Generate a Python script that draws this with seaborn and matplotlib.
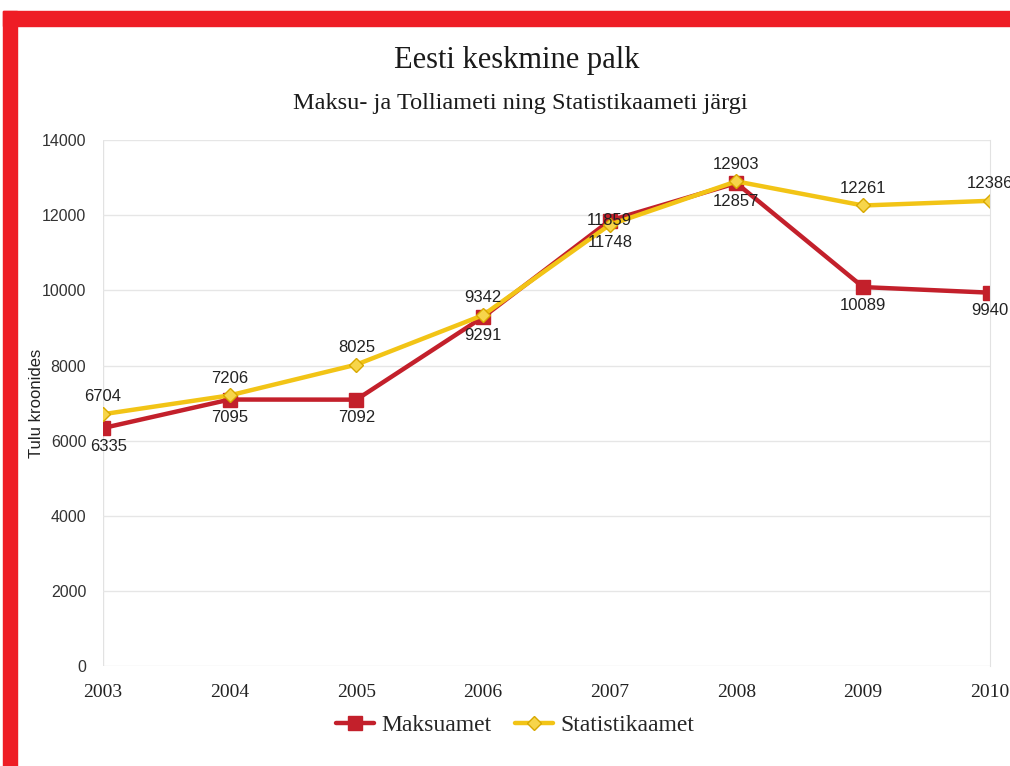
import matplotlib
matplotlib.use("Agg")

import numpy as np
import pandas as pd
import seaborn as sns
import matplotlib.pyplot as plt
from matplotlib.patches import Rectangle


# =====================================================
# DATA
# =====================================================

years = [2003, 2004, 2005, 2006, 2007, 2008, 2009, 2010]

maksuamet = [6335, 7095, 7092, 9291, 11859, 12857, 10089, 9940]

statistikaamet = [6704, 7206, 8025, 9342, 11748, 12903, 12261, 12386]

series_names = ["Maksuamet", "Statistikaamet"]

title = "Eesti keskmine palk"
subtitle = "Maksu- ja Tolliameti ning Statistikaameti järgi"
y_label = "Tulu kroonides"


# =====================================================
# LONG FORM TABLE
# =====================================================

df = pd.DataFrame({
    "year": years * 2,
    "value": maksuamet + statistikaamet,
    "source": [series_names[0]] * len(years) + [series_names[1]] * len(years),
})

red = "#C3202B"
yellow = "#F2C416"
palette = {series_names[0]: red, series_names[1]: yellow}

serif = ["Liberation Serif", "DejaVu Serif"]
sans = ["Liberation Sans", "DejaVu Sans"]


# =====================================================
# FIGURE
# =====================================================

sns.set_style("white")
plt.rcParams["font.family"] = sans

fig = plt.figure(figsize=(10.10, 7.66), dpi=100)
ax = fig.add_axes([0.102, 0.1305, 0.878, 0.6865])

sns.lineplot(
    data=df,
    x="year",
    y="value",
    hue="source",
    style="source",
    palette=palette,
    markers={series_names[0]: "s", series_names[1]: "D"},
    dashes=False,
    linewidth=3.2,
    markersize=9,
    legend=False,
    ax=ax,
)

# marker faces
for line, face, ms in zip(ax.lines, [red, "#F7D54A"], [10, 7.5]):
    line.set_markerfacecolor(face)
    line.set_markeredgecolor("#D8A800" if face != red else red)
    line.set_markersize(ms)
    line.set_markeredgewidth(1.0)


# =====================================================
# DATA LABELS
# =====================================================

label_kw = dict(fontsize=12, color="#222222", ha="center", va="center", family=sans)

for x, v in zip(years, maksuamet):
    dy = 0 if x == 2007 else -13
    dx = 4 if x == 2003 else 0
    ax.annotate(str(v), (x, v), xytext=(dx, dy), textcoords="offset points",
                **label_kw)

for x, v in zip(years, statistikaamet):
    dy = -13 if x == 2007 else 12.5
    ax.annotate(str(v), (x, v), xytext=(0, dy), textcoords="offset points",
                **label_kw)


# =====================================================
# AXES
# =====================================================

ax.set_xlim(2003, 2010)
ax.set_ylim(0, 14000)
ax.set_xticks(years)
ax.set_yticks(np.arange(0, 14001, 2000))
ax.set_xticklabels([str(y) for y in years], family=serif, fontsize=14, color="#222222")
ax.tick_params(axis="y", labelsize=11.5, colors="#333333", length=0, pad=12)
ax.tick_params(axis="x", length=0, pad=13)

ax.grid(axis="y", color="#E6E6E6", linewidth=1.0)
ax.set_axisbelow(True)
for side in ["top", "bottom", "left"]:
    ax.spines[side].set_visible(False)
ax.spines["right"].set_color("#E2E2E2")
ax.axvline(2003, color="#E2E2E2", linewidth=1.0, zorder=0)

ax.set_xlabel("")
ax.set_ylabel(y_label, fontsize=12, color="#222222")
ax.yaxis.set_label_coords(-0.066, 0.5)


# =====================================================
# TITLES + LEGEND
# =====================================================

fig.text(0.512, 0.921, title, ha="center", va="center",
         family=serif, fontsize=22, color="#1A1A1A")
fig.text(0.515, 0.865, subtitle, ha="center", va="center",
         family=serif, fontsize=17.5, color="#1A1A1A")

handles = [
    plt.Line2D([], [], color=red, marker="s", markersize=10, linewidth=3.2,
               markerfacecolor=red, markeredgecolor=red),
    plt.Line2D([], [], color=yellow, marker="D", markersize=7, linewidth=3.2,
               markerfacecolor="#F7D54A", markeredgecolor="#D8A800"),
]
fig.legend(handles, series_names, loc="center", bbox_to_anchor=(0.51, 0.053),
           ncol=2, frameon=False, handlelength=1.6, handletextpad=0.3,
           columnspacing=1.0, prop={"family": serif, "size": 17})


# =====================================================
# RED FRAME
# =====================================================

fig.patches.append(Rectangle((0.003, 0.9665), 0.997, 0.0195,
                             transform=fig.transFigure, color="#EE1D25", zorder=10))
fig.patches.append(Rectangle((0.003, 0.0), 0.014, 0.986,
                             transform=fig.transFigure, color="#EE1D25", zorder=10))

plt.savefig("out.png", dpi=100)
plt.close()
